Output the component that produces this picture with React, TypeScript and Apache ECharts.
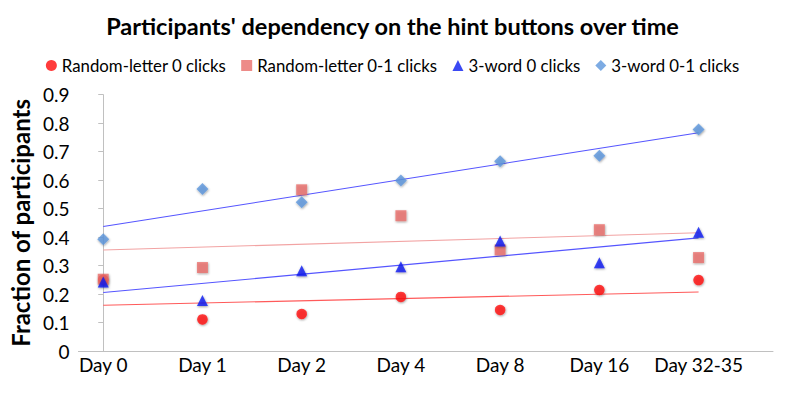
import React, { useEffect, useRef } from "react";
import * as echarts from "echarts";

const categories = ["Day 0", "Day 1", "Day 2", "Day 4", "Day 8", "Day 16", "Day 32-35"];
const randomLetter0 = [0.25, 0.111, 0.13, 0.19, 0.144, 0.214, 0.249];
const randomLetter01 = [0.252, 0.293, 0.566, 0.475, 0.355, 0.426, 0.328];
const threeWord0 = [0.242, 0.177, 0.282, 0.296, 0.386, 0.31, 0.417];
const threeWord01 = [0.392, 0.569, 0.522, 0.599, 0.666, 0.686, 0.778];
const yTicks = [0, 0.1, 0.2, 0.3, 0.4, 0.5, 0.6, 0.7, 0.8, 0.9];

const FONT = "Lato, 'Open Sans', sans-serif";

function trend(values: number[]): number[][] {
  const n = values.length;
  const xs = values.map((_, i) => i);
  const mx = xs.reduce((a, b) => a + b, 0) / n;
  const my = values.reduce((a, b) => a + b, 0) / n;
  let sxy = 0;
  let sxx = 0;
  xs.forEach((x, i) => {
    sxy += (x - mx) * (values[i] - my);
    sxx += (x - mx) * (x - mx);
  });
  const slope = sxy / sxx;
  const b = my - slope * mx;
  return [
    [0, b],
    [n - 1, b + slope * (n - 1)],
  ];
}

const pts = (v: number[]) => v.map((y, i) => [i, y]);

export default function App() {
  const ref = useRef<HTMLDivElement>(null);
  useEffect(() => {
    document.body.style.margin = "0";
    if (!ref.current) return;
    const chart = echarts.init(ref.current, undefined, { renderer: "svg" });
    const shadow = {
      shadowBlur: 2,
      shadowColor: "rgba(0,0,0,0.45)",
      shadowOffsetX: 0.5,
      shadowOffsetY: 1,
    };
    const lineSeries = (data: number[][], color: string) => ({
      type: "line",
      data,
      symbol: "none",
      silent: true,
      z: 1,
      lineStyle: { color, width: 1.1 },
    });
    chart.setOption({
      animation: false,
      title: {
        text: "Participants' dependency on the hint buttons over time",
        left: "center",
        top: 9,
        textStyle: { fontFamily: FONT, fontSize: 23.5, fontWeight: "bold", color: "#000" },
      },
      legend: {
        top: 52,
        left: "center",
        itemGap: 15,
        itemWidth: 11,
        itemHeight: 11,
        textStyle: { fontFamily: FONT, fontSize: 16.8, color: "#000" },
        data: [
          { name: "Random-letter 0 clicks", icon: "circle" },
          { name: "Random-letter 0-1 clicks", icon: "rect" },
          { name: "3-word 0 clicks", icon: "triangle" },
          { name: "3-word 0-1 clicks", icon: "diamond" },
        ],
      },
      grid: { left: 77, right: 12, top: 94.7, bottom: 46 },
      xAxis: {
        type: "value",
        min: -0.25,
        max: 6.75,
        splitNumber: 7,
        splitLine: { show: false },
        axisTick: { show: false },
        axisLine: { lineStyle: { color: "#c0c0c0", width: 1 } },
        axisLabel: {
          fontFamily: FONT,
          fontSize: 19,
          color: "#000",
          margin: 4,
          showMinLabel: false,
          showMaxLabel: false,
          formatter: (v: number) => (Number.isInteger(v) && categories[v] ? categories[v] : ""),
        },
      },
      yAxis: {
        type: "value",
        min: 0,
        max: 0.9,
        interval: 0.1,
        splitLine: { show: false },
        axisLine: { show: true, lineStyle: { color: "#c0c0c0", width: 1 } },
        axisTick: { show: true, length: 5, lineStyle: { color: "#c0c0c0" } },
        axisLabel: {
          fontFamily: FONT,
          fontSize: 19,
          color: "#000",
          margin: 9,
          formatter: (v: number) => {
            const t = yTicks.find((k) => Math.abs(k - v) < 1e-6);
            return t === undefined ? "" : String(t);
          },
        },
        name: "Fraction of participants",
        nameLocation: "middle",
        nameGap: 45,
        nameTextStyle: { fontFamily: FONT, fontSize: 24, fontWeight: "bold", color: "#000" },
      },
      series: [
        lineSeries(trend(randomLetter0), "#ff5a5a"),
        lineSeries(trend(randomLetter01), "#f2a3a3"),
        lineSeries(trend(threeWord0), "#5555ff"),
        lineSeries(trend(threeWord01), "#5555ff"),
        {
          name: "Random-letter 0 clicks",
          type: "scatter",
          data: pts(randomLetter0),
          symbol: "circle",
          symbolSize: 10.5,
          z: 3,
          itemStyle: { color: "#ff0a0a", ...shadow },
        },
        {
          name: "Random-letter 0-1 clicks",
          type: "scatter",
          data: pts(randomLetter01),
          symbol: "rect",
          symbolSize: 11,
          z: 3,
          itemStyle: { color: "#e86e6a", ...shadow },
        },
        {
          name: "3-word 0 clicks",
          type: "scatter",
          data: pts(threeWord0),
          symbol: "triangle",
          symbolSize: 11,
          z: 3,
          itemStyle: { color: "#0a1cf0", ...shadow },
        },
        {
          name: "3-word 0-1 clicks",
          type: "scatter",
          data: pts(threeWord01),
          symbol: "diamond",
          symbolSize: 12,
          z: 3,
          itemStyle: { color: "#5d96dc", ...shadow },
        },
      ],
    });
    return () => chart.dispose();
  }, []);
  return <div ref={ref} style={{ width: 785, height: 397 }} />;
}
